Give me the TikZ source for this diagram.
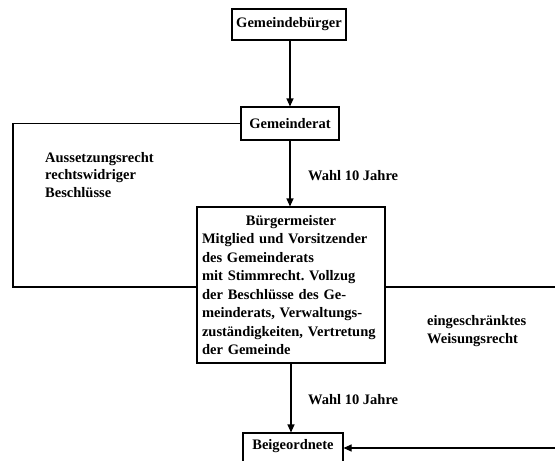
\documentclass[tikz,border=0pt]{standalone}
\usepackage{fontspec}
\setmainfont{Liberation Serif}
\usetikzlibrary{arrows.meta}
\frenchspacing
\begin{document}
\begin{tikzpicture}[x=1pt,y=-1pt,
  font=\fontsize{14.5}{17.5}\selectfont\bfseries,
  box/.style={draw,line width=1.1pt,inner sep=0pt,align=center},
  conn/.style={line width=1.1pt},
  arr/.style={conn,-{Triangle[length=8pt,width=7pt]}},
  lbl/.style={align=left,inner sep=0pt,anchor=west}]
\useasboundingbox (0,0) rectangle (555,461);
\clip (0,0) rectangle (555,461);
\node[box,minimum width=114,minimum height=31] (gb) at (289,24.5) {Gemeindebürger};
\node[box,minimum width=98,minimum height=33] (gr) at (290,123.5) {Gemeinderat};
\node[box,minimum width=188,minimum height=156,text width=178pt,inner xsep=5pt,align=left,
  font=\fontsize{14.5}{18.5}\selectfont\bfseries] (bm) at (291,285) {%
  \makebox[178pt][c]{Bürgermeister}\\
  Mitglied und Vorsitzender\\
  des Gemeinderats\\
  mit Stimmrecht. Vollzug\\
  der Beschlüsse des Ge-\\
  meinderats, Verwaltungs-\\
  zuständigkeiten, Vertretung\\
  der Gemeinde};
\node[box,minimum width=100,minimum height=38] (bg) at (293,452) {};
\node[inner sep=0pt] (bgt) at (293,446) {Beigeordnete};
\coordinate (lt) at (13,123.5);
\coordinate (lb) at (13,287);
\coordinate (rr) at (556,287);
\coordinate (ra) at (556,448);
\draw[arr] (gb.south -| 290,0) -- (gr.north -| 290,0);
\draw[arr] (gr.south -| 290,0) -- (bm.north -| 290,0);
\draw[arr] (bm.south -| 291,0) -- (bg.north -| 291,0);
\draw[conn] (gr.west) -- (lt) -- (lb) -- (bm.west |- lb);
\draw[conn] (bm.east |- rr) -- (rr);
\draw[arr] (ra) -- (bg.east |- ra);
\node[lbl] (l1) at (45,175) {Aussetzungsrecht\\rechtswidriger\\Beschlüsse};
\node[lbl] (l2) at (308,176) {Wahl 10 Jahre};
\node[lbl] (l3) at (308,400) {Wahl 10 Jahre};
\node[lbl] (l4) at (427,331) {eingeschränktes\\Weisungsrecht};
\end{tikzpicture}
\end{document}
